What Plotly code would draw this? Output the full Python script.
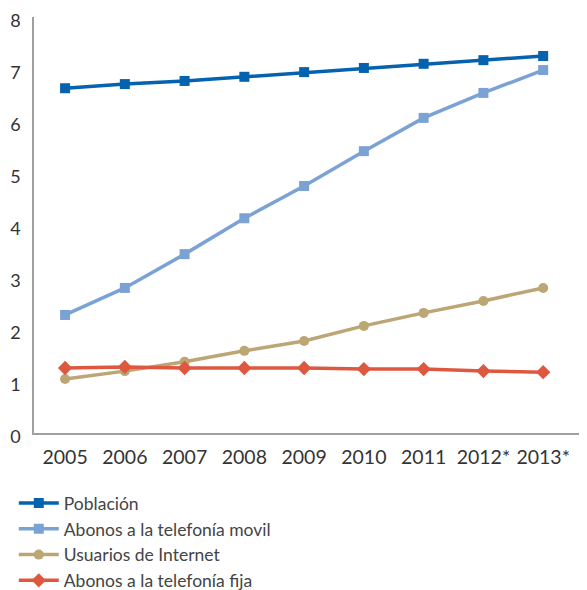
import plotly.graph_objects as go

anios = ["2005", "2006", "2007", "2008", "2009", "2010", "2011", "2012*", "2013*"]
poblacion = [6.63, 6.71, 6.77, 6.85, 6.94, 7.02, 7.10, 7.17, 7.25]
movil = [2.27, 2.79, 3.44, 4.13, 4.75, 5.42, 6.06, 6.54, 6.98]
internet = [1.04, 1.19, 1.37, 1.58, 1.77, 2.06, 2.31, 2.54, 2.79]
fija = [1.25, 1.27, 1.25, 1.25, 1.25, 1.23, 1.23, 1.19, 1.17]

series = [
    ("Población", poblacion, "#0562ae", "square"),
    ("Abonos a la telefonía movil", movil, "#7ba2d5", "square"),
    ("Usuarios de Internet", internet, "#bba674", "circle"),
    ("Abonos a la telefonía fija", fija, "#de5840", "diamond"),
]

x = list(range(len(anios)))

fig = go.Figure()
for nombre, valores, color, simbolo in series:
    fig.add_trace(go.Scatter(
        x=x, y=valores, name=nombre, mode="lines+markers",
        line=dict(color=color, width=3.5),
        marker=dict(symbol=simbolo, size=11 if simbolo == "diamond" else 10, color=color),
    ))

# the page body adds an 8px margin, so the figure is 8px smaller each way
fig.update_layout(
    width=579, height=582,
    margin=dict(l=26, r=2, t=9, b=157, autoexpand=False),
    plot_bgcolor="white", paper_bgcolor="white",
    font=dict(family="Lato, sans-serif", size=18, color="#333333"),
    showlegend=True,
    legend=dict(
        xref="container", yref="container",
        x=0.01, y=0.18, xanchor="left", yanchor="top",
        font=dict(size=17.5, color="#444444"),
        tracegroupgap=0, itemwidth=40,
    ),
)
fig.update_xaxes(
    tickmode="array", tickvals=x, ticktext=anios,
    range=[-0.52, 8.7], showgrid=False, zeroline=False,
    showline=True, linecolor="#a0a0a0", linewidth=1.5,
    ticks="", ticklabelstandoff=6, automargin=False,
    tickfont=dict(size=19.5), ticklabeloverflow="allow",
)
fig.update_yaxes(
    range=[0, 8], dtick=1, showgrid=False, zeroline=False,
    showline=True, linecolor="#a0a0a0", linewidth=1.5,
    ticks="", ticklabelstandoff=8, automargin=False,
    tickfont=dict(size=18), ticklabeloverflow="allow",
    ticklabelshift=4,
)

fig.write_html("out.html")
